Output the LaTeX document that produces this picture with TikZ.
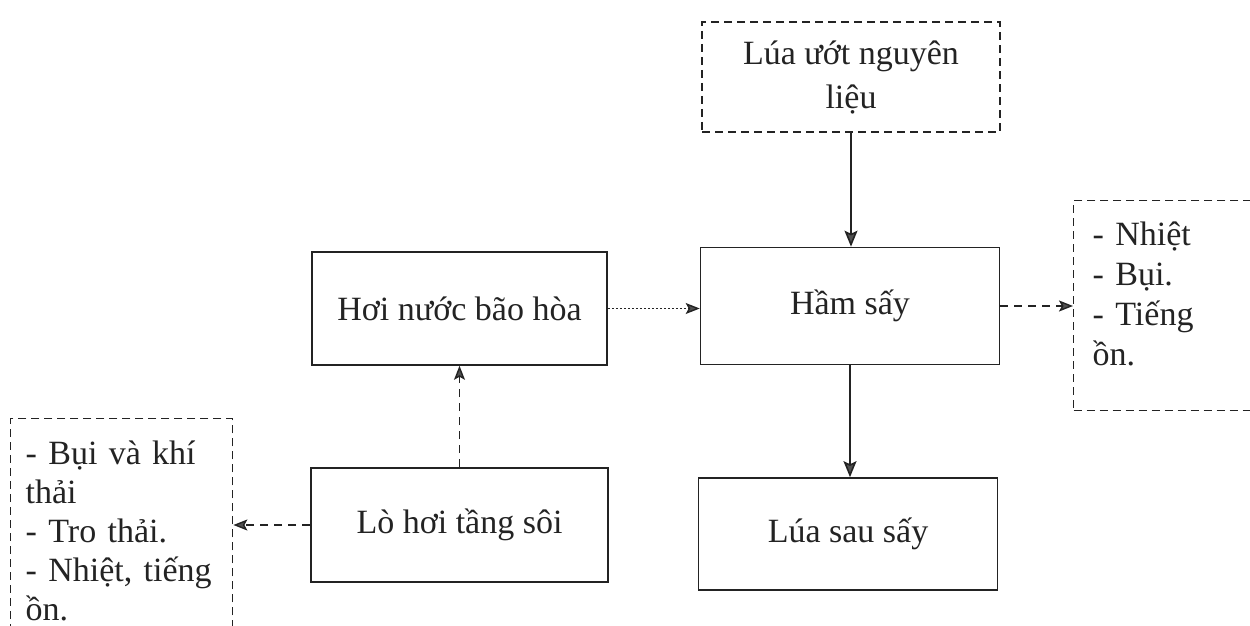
\documentclass[tikz,border=0pt]{standalone}
\usepackage{fontspec}
\setmainfont{Liberation Serif}
\usetikzlibrary{arrows.meta}
\definecolor{ink}{RGB}{35,35,35}
\definecolor{tipgray}{RGB}{80,80,80}
\tikzset{flowsec/.style={x=0.5pt,y=-0.5pt,font=\fontsize{17}{21}\selectfont,text=ink},
  solidbox/.style={draw=ink,line width=0.8pt,minimum width=149.5pt,minimum height=58pt,inner sep=0pt},
  dashbox/.style={draw=ink,line width=0.7pt,dash pattern=on 4pt off 2.5pt},
  listbox/.style={dashbox,align=left,anchor=north west},
  flowarr/.style={draw=ink,line width=0.8pt,-{Stealth[length=8pt,width=6.5pt,inset=1.5pt,fill=tipgray]}},
  softarr/.style={draw=ink,line width=0.7pt,-{Stealth[length=7pt,width=5.5pt,inset=1.5pt,fill=tipgray]}}}
\newcommand{\lastdepth}{\rule[-12pt]{0pt}{12pt}}

\begin{document}
\begin{tikzpicture}[flowsec]
    \clip (0,0) rectangle (1250,626);
    \node[dashbox,minimum width=149pt,minimum height=55pt,align=center,font=\fontsize{17}{22}\selectfont] (raw) at (851,77) {Lúa ướt nguyên\\liệu};
    \node[solidbox,minimum height=58.5pt] (ham) at (850,306) {Hầm sấy};
    \node[solidbox,minimum height=56pt] (sau) at (848,534) {Lúa sau sấy};
    \node[solidbox,minimum width=147.5pt,minimum height=56.5pt] (hoi) at (459.5,308.5) {Hơi nước bão hòa};
    \node[solidbox,minimum width=148.5pt,minimum height=57pt] (lo) at (459.5,525) {Lò hơi tầng sôi};
    \node[listbox,text width=96pt,inner xsep=7.5pt,inner ysep=11pt,font=\fontsize{17}{19.5}\selectfont] (waste) at (10,418)
        {- Bụi và khí\\thải\\- Tro thải.\\- Nhiệt, tiếng\\ồn.\lastdepth};
    \node[listbox,text width=90pt,inner xsep=9.5pt,inner ysep=10.5pt,font=\fontsize{17}{20}\selectfont] (noise) at (1073,200)
        {- Nhiệt\\- Bụi.\\- Tiếng\\ồn.\lastdepth};
    \draw[flowarr] (raw.south) -- (raw.south |- ham.north);
    \draw[flowarr] (ham.south) -- (ham.south |- sau.north);
    \draw[softarr,dash pattern=on 1pt off 1pt] (hoi.east) -- (hoi.east -| ham.west);
    \draw[softarr,dash pattern=on 4pt off 3pt] (lo.north) -- (hoi.south);
    \draw[softarr,dash pattern=on 4pt off 3pt] (ham.east) -- (ham.east -| noise.west);
    \draw[softarr,dash pattern=on 4pt off 3pt] (lo.west) -- (lo.west -| waste.east);
\end{tikzpicture}
\end{document}
